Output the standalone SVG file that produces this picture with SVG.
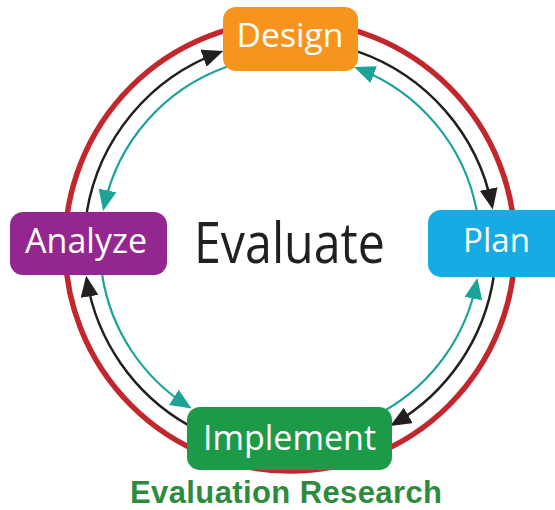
<svg xmlns="http://www.w3.org/2000/svg" width="555" height="510" viewBox="0 0 555 510">
<style>
.ring{fill:none;stroke:#C1272D;stroke-width:5.5}
.blk{fill:none;stroke:#231F20;stroke-width:2.5}
.tl{fill:none;stroke:#1BA398;stroke-width:2.2}
.lbl{font-family:"Open Sans","Noto Sans",sans-serif;fill:#ffffff;text-anchor:middle}
.ctr{font-family:"Open Sans","Noto Sans",sans-serif;fill:#231F20;text-anchor:middle}
.ttl{font-family:"Liberation Sans",Arial,sans-serif;font-weight:bold;fill:#2E8B3E;text-anchor:middle}
</style>
<defs>
<marker id="ab" markerUnits="userSpaceOnUse" markerWidth="21" markerHeight="18" refX="17" refY="9" orient="auto" viewBox="0 0 21 18">
<path d="M0,0 L21,9 L0,18 z" fill="#231F20"/>
</marker>
<marker id="at" markerUnits="userSpaceOnUse" markerWidth="21" markerHeight="18" refX="17" refY="9" orient="auto" viewBox="0 0 21 18">
<path d="M0,0 L21,9 L0,18 z" fill="#1BA398"/>
</marker>
</defs>
<g id="connectors">
<circle class="ring" cx="290" cy="246" r="225"/>
<path class="blk" marker-end="url(#ab)" d="M86.8,212 A206,206 0 0 1 219.5,52.4"/>
<path class="blk" marker-end="url(#ab)" d="M358,51.6 A206,206 0 0 1 492,205.6"/>
<path class="blk" marker-end="url(#ab)" d="M493.6,277.2 A206,206 0 0 1 393.6,424"/>
<path class="blk" marker-end="url(#ab)" d="M187.9,424.9 A206,206 0 0 1 86.8,279.6"/>
<path class="tl" marker-end="url(#at)" d="M226.9,66.8 A190,190 0 0 0 104,207.1"/>
<path class="tl" marker-end="url(#at)" d="M102.2,275 A190,190 0 0 0 188.2,406.4"/>
<path class="tl" marker-end="url(#at)" d="M385,410.5 A190,190 0 0 0 476.6,281.9"/>
<path class="tl" marker-end="url(#at)" d="M476.6,210.1 A190,190 0 0 0 357.8,68.5"/>
</g>
<g id="design">
<rect x="223" y="7" width="135" height="64" rx="13" fill="#F7941D"/>
<text class="lbl" x="290" y="47" font-size="33" textLength="107" lengthAdjust="spacingAndGlyphs">Design</text>
</g>
<g id="plan">
<rect x="428" y="210" width="140" height="67" rx="13" fill="#17AAE3"/>
<text class="lbl" x="496.5" y="252" font-size="32" textLength="67" lengthAdjust="spacingAndGlyphs">Plan</text>
</g>
<g id="analyze">
<rect x="10" y="212" width="157" height="63" rx="13" fill="#93278F"/>
<text class="lbl" x="86" y="253" font-size="34" textLength="122" lengthAdjust="spacingAndGlyphs">Analyze</text>
</g>
<g id="implement">
<rect x="187" y="407" width="205" height="63" rx="13" fill="#1C9A48"/>
<text class="lbl" x="289.5" y="450" font-size="35" textLength="173" lengthAdjust="spacingAndGlyphs">Implement</text>
</g>
<g id="evaluate">
<text class="ctr" x="289.5" y="263" font-size="56" textLength="191" lengthAdjust="spacingAndGlyphs">Evaluate</text>
</g>
<g id="title">
<text class="ttl" x="286" y="503" font-size="31" textLength="312">Evaluation Research</text>
</g>
</svg>
